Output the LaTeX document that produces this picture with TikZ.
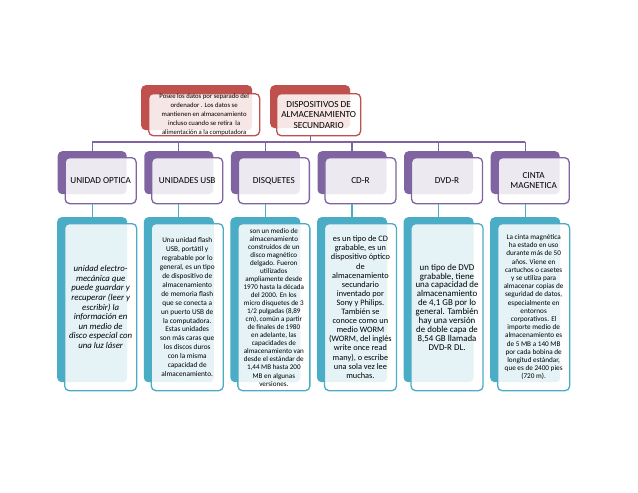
\documentclass[tikz,border=0pt]{standalone}
\usepackage{fontspec}
\setmainfont{Carlito}
\definecolor{pur}{HTML}{8064A2}
\definecolor{blu}{HTML}{4BACC6}
\definecolor{rojo}{HTML}{C0504D}
\tikzset{
  backbox/.style={draw=none, fill=#1, rounded corners=4.5pt, inner sep=0pt, anchor=north west},
  frontbox/.style={draw=#1, line width=1.3pt, fill=white, fill opacity=0.86, text opacity=1,
    rounded corners=4.5pt, inner sep=0pt, anchor=north west, align=center, text=black},
  purline/.style={draw=pur, line width=1.2pt},
  bluline/.style={draw=blu, line width=1.2pt},
}
\newcommand\lvlbox[3]{%
  \node[backbox=pur, minimum width=69pt, minimum height=43pt] (pb#1) at (#2,151) {};
  \node[frontbox=pur, minimum width=71pt, minimum height=46pt,
        font=\fontsize{9.2}{10.5}\selectfont] (pf#1) at ({#2+7},157) {#3};
}
\newcommand\descbox[4]{%
  \node[backbox=blu, minimum width=70pt, minimum height=165pt] (bb#1) at ({#2-0.5},217) {};
  \node[frontbox=blu, minimum width=72pt, minimum height=167pt, font=#3] (bf#1) at ({#2+6.5},223) {#4};
}
\begin{document}
\begin{tikzpicture}[x=1pt,y=-1pt]
\useasboundingbox (0,0) rectangle (638,493);
% top boxes
\node[backbox=rojo, minimum width=111pt, minimum height=45pt] (nb) at (141,85) {};
\node[frontbox=rojo, minimum width=111pt, minimum height=42pt,
      font=\fontsize{6.7}{8.8}\selectfont] (nf) at (148,93)
  {Posee los datos por separado del\\ ordenador . Los datos se\\ mantienen en almacenamiento\\ incluso cuando se retira \ la\\ alimentación a la computadora};
\node[backbox=rojo, minimum width=80pt, minimum height=43pt] (mb) at (270,85) {};
\node[frontbox=rojo, minimum width=84pt, minimum height=42pt,
      font=\fontsize{9.3}{10.5}\selectfont] (mf) at (276,93)
  {DISPOSITIVOS DE\\ ALMACENAMIENTO\\ SECUNDARIO};
% second level
\lvlbox{1}{57.5}{UNIDAD OPTICA}
\lvlbox{2}{144.1}{UNIDADES USB}
\lvlbox{3}{230.7}{DISQUETES}
\lvlbox{4}{317.3}{CD-R}
\lvlbox{5}{403.9}{DVD-R}
\lvlbox{6}{490.5}{CINTA\\ MAGNETICA}
% third level
\descbox{1}{57.5}{\itshape\fontsize{8.8}{9.6}\selectfont}
  {unidad electro-\\ mecánica que\\ puede guardar y\\ recuperar (leer y\\ escribir) la\\ información en\\ un medio de\\ disco especial con\\ una luz láser}
\descbox{2}{144.1}{\fontsize{7.3}{8.9}\selectfont}
  {Una unidad flash\\ USB, portátil y\\ regrabable por lo\\ general, es un tipo\\ de dispositivo de\\ almacenamiento\\ de memoria flash\\ que se conecta a\\ un puerto USB de\\ la computadora.\\ Estas unidades\\ son más caras que\\ los discos duros\\ con la misma\\ capacidad de\\ almacenamiento.}
\descbox{3}{230.7}{\fontsize{7.1}{8.05}\selectfont}
  {son un medio de\\ almacenamiento\\ construidos de un\\ disco magnético\\ delgado. Fueron\\ utilizados\\ ampliamente desde\\ 1970 hasta la década\\ del 2000. En los\\ micro disquetes de 3\\ 1/2 pulgadas (8,89\\ cm), común a partir\\ de finales de 1980\\ en adelante, las\\ capacidades de\\ almacenamiento van\\ desde el estándar de\\ 1,44 MB hasta 200\\ MB en algunas\\ versiones.}
\descbox{4}{317.3}{\fontsize{8.3}{9.1}\selectfont}
  {es un tipo de CD\\ grabable, es un\\ dispositivo óptico\\ de\\ almacenamiento\\ secundario\\ inventado por\\ Sony y Philips.\\ También se\\ conoce como un\\ medio WORM\\ (WORM, del inglés\\ write once read\\ many), o escribe\\ una sola vez lee\\ muchas.}
\descbox{5}{403.9}{\fontsize{8.9}{8.9}\selectfont}
  {un tipo de DVD\\ grabable, tiene\\ una capacidad de\\ almacenamiento\\ de 4,1 GB por lo\\ general. También\\ hay una versión\\ de doble capa de\\ 8,54 GB llamada\\ DVD-R DL.}
\descbox{6}{490.5}{\fontsize{7.2}{8.2}\selectfont}
  {La cinta magnética\\ ha estado en uso\\ durante más de 50\\ años. Viene en\\ cartuchos o casetes\\ y se utiliza para\\ almacenar copias de\\ seguridad de datos,\\ especialmente en\\ entornos\\ corporativos. El\\ importe medio de\\ almacenamiento es\\ de 5 MB a 140 MB\\ por cada bobina de\\ longitud estándar,\\ que es de 2400 pies\\ (720 m).}
% connectors
\coordinate (hl) at (92,142);
\coordinate (hr) at (525.3,142);
\draw[purline] (hl) -- (hr);
\draw[purline] (mb.south |- mf.south) -- (mb.south |- hl);
\foreach \i in {1,...,6} {
  \draw[purline] (pb\i.north) -- (pb\i.north |- hl);
  \draw[bluline] (pb\i.south |- pf\i.south) -- (bb\i.north);
}
\end{tikzpicture}
\end{document}
